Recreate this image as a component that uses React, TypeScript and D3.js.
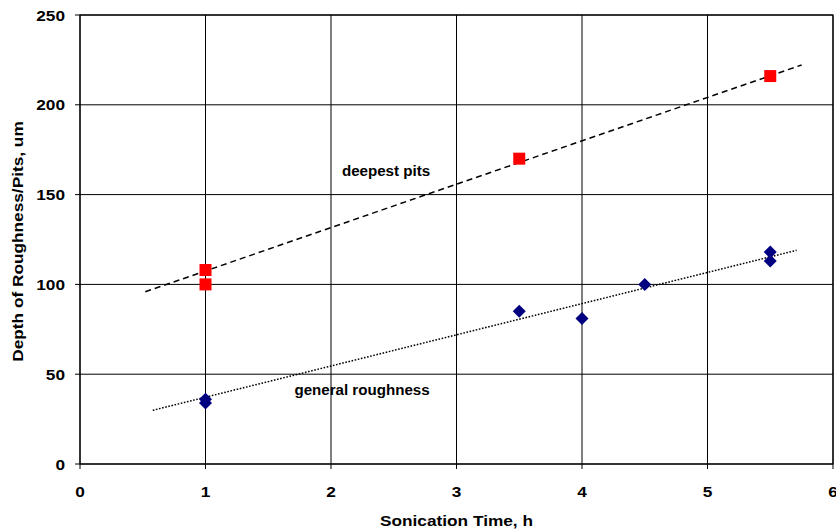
import React from "react";
import * as d3 from "d3";

const xTicks = [0, 1, 2, 3, 4, 5, 6];
const yTicks = [0, 50, 100, 150, 200, 250];

const pitsX = [1, 1, 3.5, 5.5];
const pitsY = [108, 100, 170, 216];

const roughX = [1, 1, 3.5, 4, 4.5, 5.5, 5.5];
const roughY = [34, 36, 85, 81, 100, 113, 118];

const pitsTrendX = [0.52, 5.75];
const pitsTrendY = [95.9, 222.2];
const roughTrendX = [0.58, 5.71];
const roughTrendY = [29.9, 119];

const W = 836;
const H = 530;
const L = 80, R = 833, T = 15, B = 464;
const SX = 1.15;

export default function App() {
  const x = d3.scaleLinear().domain([0, 6]).range([L, R]);
  const y = d3.scaleLinear().domain([0, 250]).range([B, T]);
  const line = d3
    .line<[number, number]>()
    .x((d) => x(d[0]))
    .y((d) => y(d[1]));
  const font = "Arial, 'Liberation Sans', sans-serif";
  const txt = (key: string, px: number, py: number, s: string, size: number, anchor: string, sx = SX) => (
    <text
      key={key}
      transform={`translate(${px},${py}) scale(${sx},1)`}
      textAnchor={anchor}
      fontSize={size}
      fontWeight="bold"
    >
      {s}
    </text>
  );
  return (
    <svg
      width={W}
      height={H}
      style={{ position: "absolute", left: 0, top: 0, background: "#fff" }}
      fontFamily={font}
    >
      <rect x={0} y={0} width={W} height={H} fill="#fff" />
      {xTicks.map((t) => (
        <line key={"gx" + t} x1={x(t)} x2={x(t)} y1={T} y2={B} stroke="#000" strokeWidth={1} />
      ))}
      {yTicks.map((t) => (
        <line key={"gy" + t} x1={L} x2={R} y1={y(t)} y2={y(t)} stroke="#000" strokeWidth={1} />
      ))}
      <rect x={L} y={T} width={R - L} height={B - T} fill="none" stroke="#000" strokeWidth={1.2} />
      {xTicks.map((t) => (
        <g key={"tx" + t}>
          <line x1={x(t)} x2={x(t)} y1={B} y2={B + 5} stroke="#000" />
          {txt("xl" + t, x(t), B + 33, String(t), 15, "middle")}
        </g>
      ))}
      {yTicks.map((t) => (
        <g key={"ty" + t}>
          <line x1={L - 5} x2={L} y1={y(t)} y2={y(t)} stroke="#000" />
          {txt("yl" + t, L - 15, y(t) + 5.5, String(t), 15, "end")}
        </g>
      ))}
      <path
        d={line(pitsTrendX.map((v, i) => [v, pitsTrendY[i]] as [number, number])) || ""}
        fill="none"
        stroke="#000"
        strokeWidth={1.5}
        strokeDasharray="6,4"
      />
      <path
        d={line(roughTrendX.map((v, i) => [v, roughTrendY[i]] as [number, number])) || ""}
        fill="none"
        stroke="#000"
        strokeWidth={1.5}
        strokeDasharray="1.6,1.6"
      />
      {pitsX.map((v, i) => (
        <rect key={"p" + i} x={x(v) - 6} y={y(pitsY[i]) - 6} width={12} height={12} fill="#ff0000" />
      ))}
      {roughX.map((v, i) => (
        <path
          key={"r" + i}
          d={`M${x(v)},${y(roughY[i]) - 6.5} L${x(v) + 6.5},${y(roughY[i])} L${x(v)},${y(roughY[i]) + 6.5} L${x(v) - 6.5},${y(roughY[i])} Z`}
          fill="#000080"
        />
      ))}
      {txt("dp", 386, 176, "deepest pits", 14, "middle", 1.08)}
      {txt("gr", 362, 395, "general roughness", 14, "middle", 1.08)}
      {txt("xt", (L + R) / 2, 526, "Sonication Time, h", 15, "middle")}
      <text
        transform={`translate(23,${(T + B) / 2 + 2}) rotate(-90) scale(${SX},1)`}
        textAnchor="middle"
        fontSize={15}
        fontWeight="bold"
      >
        Depth of Roughness/Pits, um
      </text>
    </svg>
  );
}
